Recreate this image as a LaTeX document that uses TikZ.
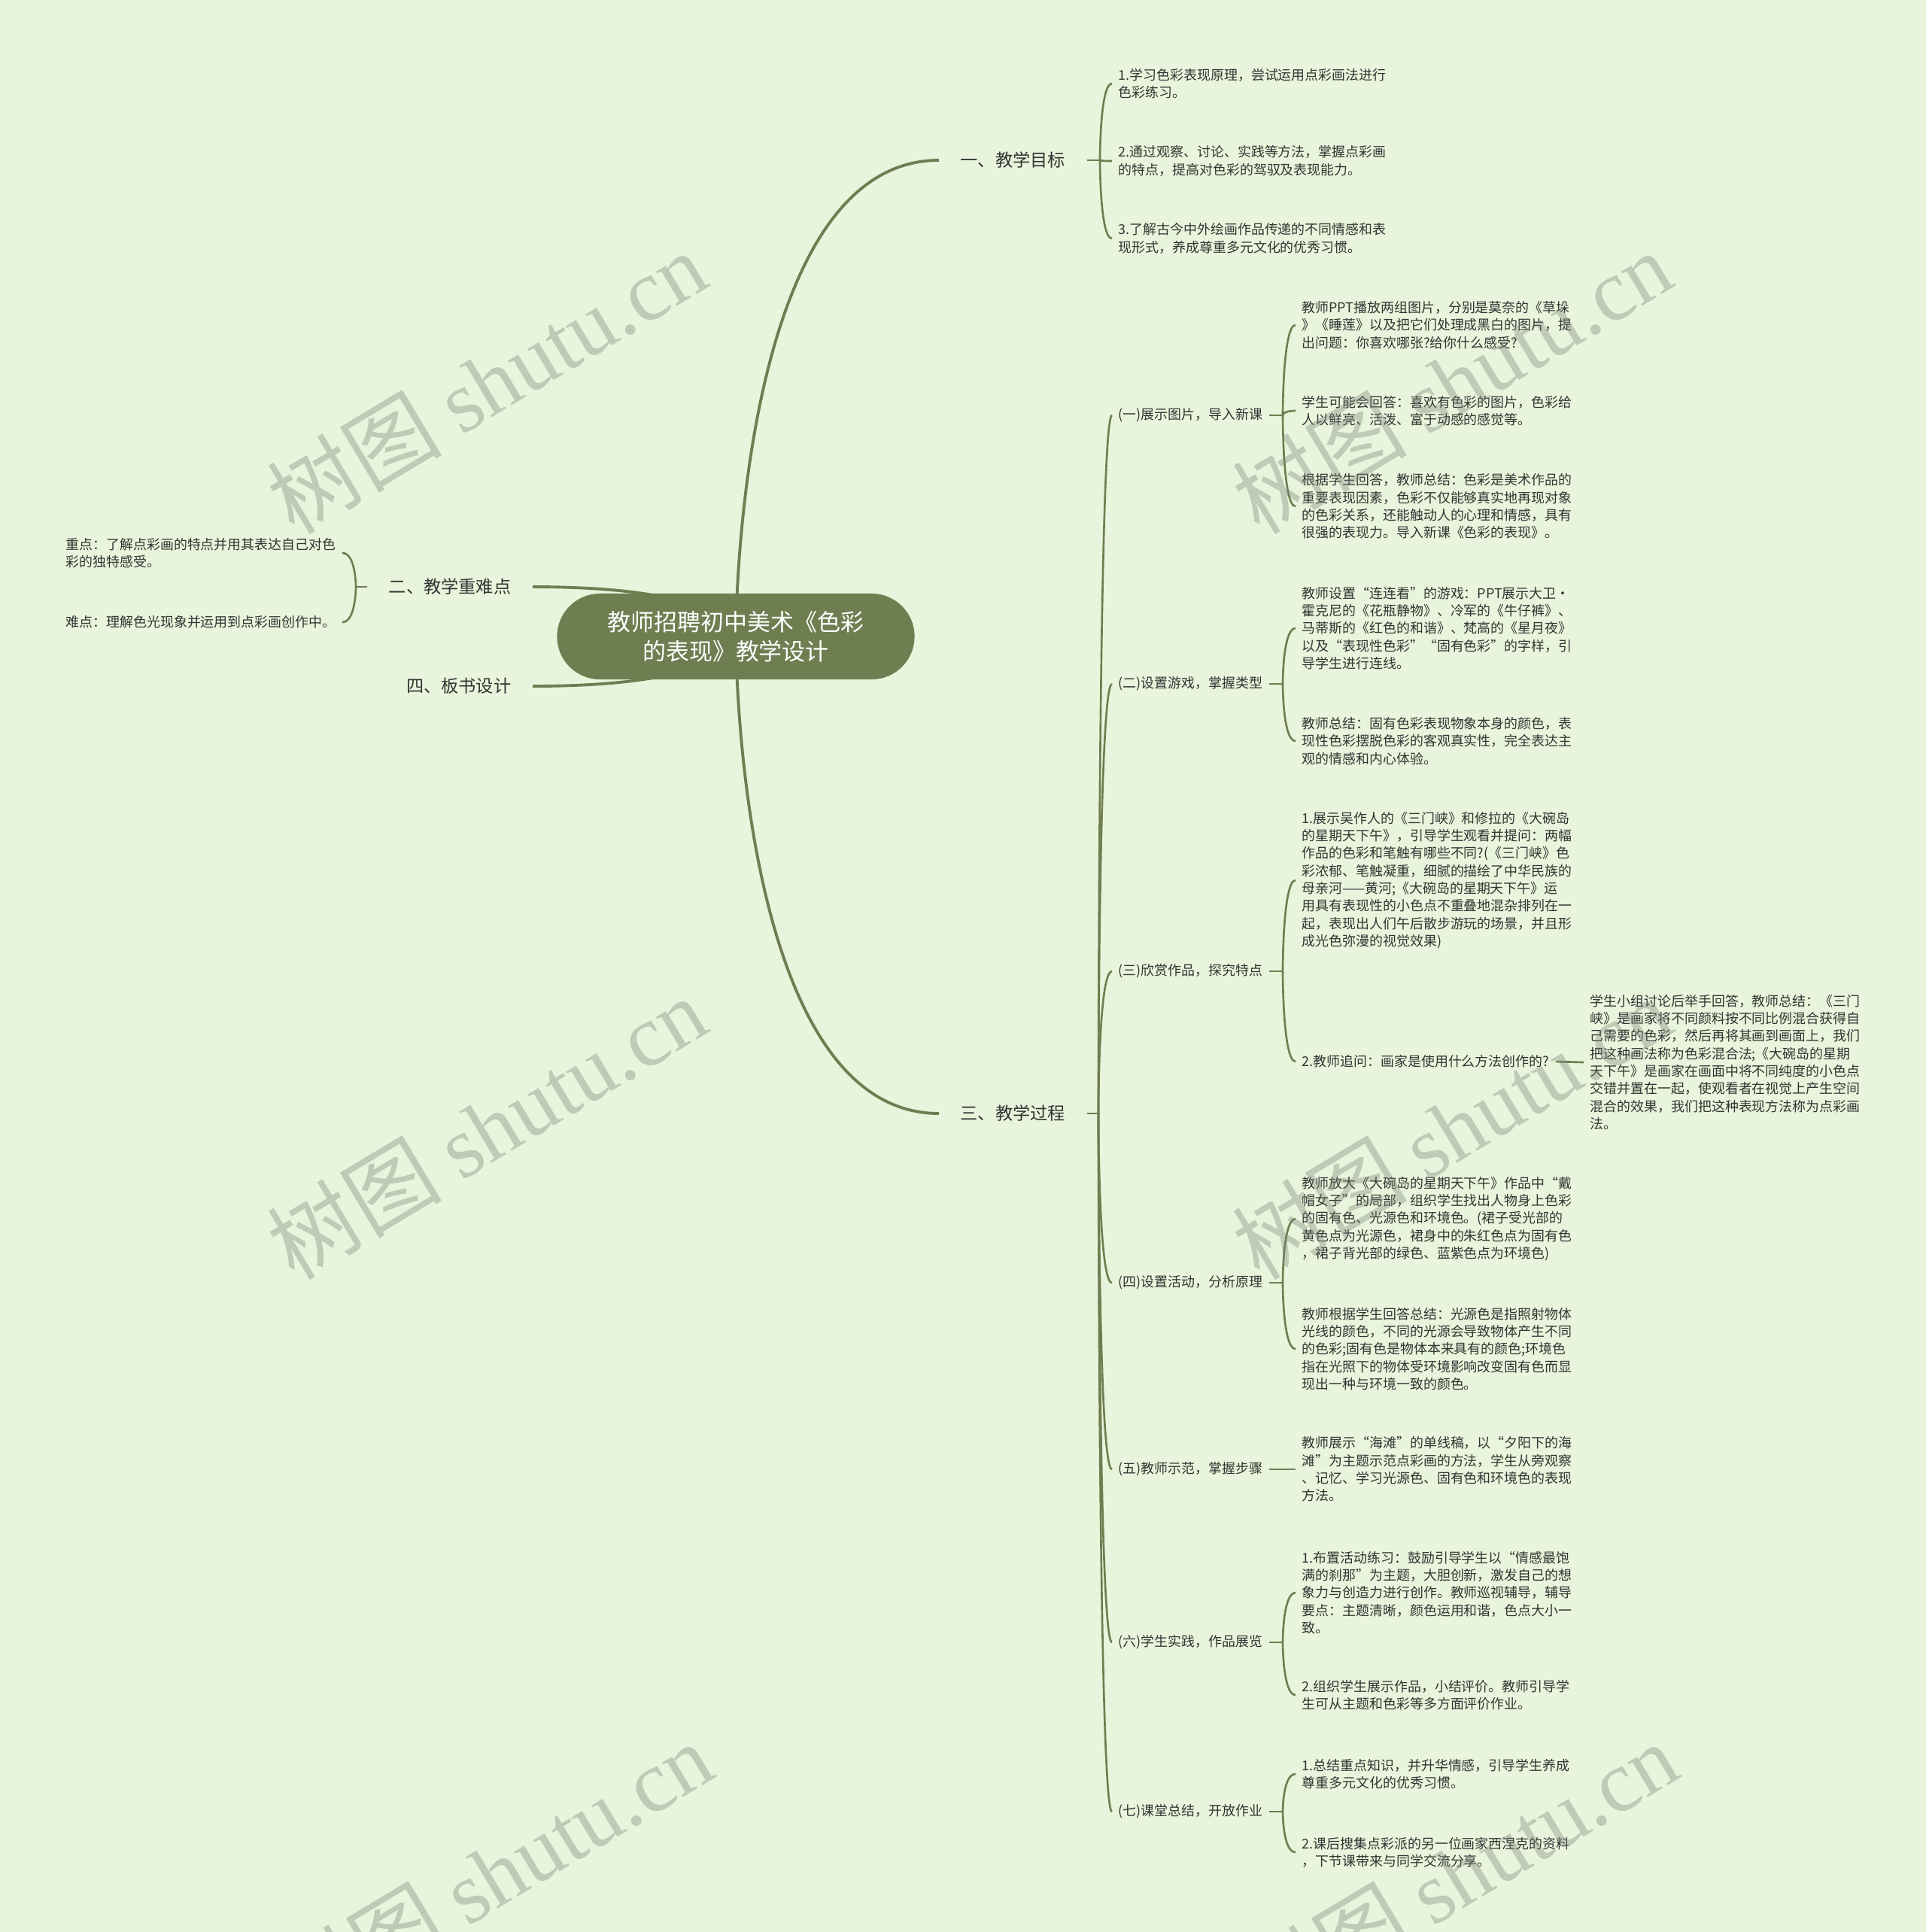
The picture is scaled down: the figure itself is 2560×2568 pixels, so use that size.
\documentclass[tikz,border=0pt]{standalone}
\usepackage{fontspec}
\setmainfont{Noto Sans CJK SC}
\newfontfamily\wmserif{Liberation Serif}
\usetikzlibrary{backgrounds}
\definecolor{bgc}{HTML}{E8F4DB}
\definecolor{linec}{HTML}{6F7E51}
\definecolor{rootc}{HTML}{6F7E51}
\definecolor{txtc}{HTML}{333333}
\definecolor{wmc}{RGB}{120,130,120}
\tikzset{
  root/.style={fill=rootc, text=white, rounded corners=0.57cm, minimum width=4.75cm, minimum height=1.14cm, align=center, font=\fontsize{8.8}{11}\selectfont, inner sep=0pt},
  mainb/.style={text=txtc, font=\fontsize{6.6}{8}\selectfont, inner xsep=0.28cm, inner ysep=0pt},
  subb/.style={text=txtc, font=\fontsize{5.1}{6.63}\selectfont, inner xsep=0.08cm, inner ysep=0pt, align=left},
  leaf/.style={text=txtc, font=\fontsize{5.1}{6.63}\selectfont, inner xsep=0.08cm, inner ysep=0pt, align=left},
  link/.style={draw=linec, line width=0.75pt},
  mainlink/.style={draw=linec, line width=1.1pt},
  wm/.style={text=wmc, text opacity=0.36, rotate=31, font=\fontsize{33}{38}\selectfont, inner sep=0pt}
}
\newcommand\mmcurve[3][link]{\draw[#1] (#2) .. controls (#2) and (#2 |- #3) .. (#3);}
\begin{document}
\begin{tikzpicture}[x=0.01cm,y=-0.01cm]
\useasboundingbox (0,0) rectangle (2560,2568);

% root
\node[root] (c) at (978,846) {教师招聘初中美术《色彩\\的表现》教学设计};

% level 1
\node[mainb, anchor=west] (l1a) at (1248,213) {一、教学目标};
\node[mainb, anchor=west] (l1c) at (1248,1480) {三、教学过程};
\node[mainb, anchor=east] (l1b) at (708,780) {二、教学重难点};
\node[mainb, anchor=east] (l1d) at (708,912) {四、板书设计};

% trunks
\coordinate (t1) at (1462,213);
\coordinate (t3) at (1460,1480);
\coordinate (t2) at (473,780);

% 一 leaves
\node[leaf, anchor=west] (a1) at (1478,111) {1.学习色彩表现原理，尝试运用点彩画法进行\\色彩练习。};
\node[leaf, anchor=west] (a2) at (1478,214) {2.通过观察、讨论、实践等方法，掌握点彩画\\的特点，提高对色彩的驾驭及表现能力。};
\node[leaf, anchor=west] (a3) at (1478,317) {3.了解古今中外绘画作品传递的不同情感和表\\现形式，养成尊重多元文化的优秀习惯。};

% 二 leaves
\node[leaf, anchor=east] (i1) at (455,735) {重点：了解点彩画的特点并用其表达自己对色\\彩的独特感受。};
\node[leaf, anchor=east] (i2) at (455,827) {难点：理解色光现象并运用到点彩画创作中。};

% 三 level 2
\node[subb, anchor=west] (p1) at (1478,552) {(一)展示图片，导入新课};
\node[subb, anchor=west] (p2) at (1478,909) {(二)设置游戏，掌握类型};
\node[subb, anchor=west] (p3) at (1478,1291) {(三)欣赏作品，探究特点};
\node[subb, anchor=west] (p4) at (1478,1705) {(四)设置活动，分析原理};
\node[subb, anchor=west] (p5) at (1478,1953) {(五)教师示范，掌握步骤};
\node[subb, anchor=west] (p6) at (1478,2183) {(六)学生实践，作品展览};
\node[subb, anchor=west] (p7) at (1478,2408) {(七)课堂总结，开放作业};

\coordinate (s1) at (1705,552);
\coordinate (s2) at (1705,909);
\coordinate (s3) at (1705,1291);
\coordinate (s4) at (1705,1705);
\coordinate (s5) at (1705,1953);
\coordinate (s6) at (1705,2183);
\coordinate (s7) at (1705,2408);

% (一)
\node[leaf, anchor=west] (b1) at (1722,432) {教师PPT播放两组图片，分别是莫奈的《草垛\\》《睡莲》以及把它们处理成黑白的图片，提\\出问题：你喜欢哪张?给你什么感受?};
\node[leaf, anchor=west] (b2) at (1722,546) {学生可能会回答：喜欢有色彩的图片，色彩给\\人以鲜亮、活泼、富于动感的感觉等。};
\node[leaf, anchor=west] (b3) at (1722,673) {根据学生回答，教师总结：色彩是美术作品的\\重要表现因素，色彩不仅能够真实地再现对象\\的色彩关系，还能触动人的心理和情感，具有\\很强的表现力。导入新课《色彩的表现》。};

% (二)
\node[leaf, anchor=west] (c1) at (1722,835) {教师设置“连连看”的游戏：PPT展示大卫·\\霍克尼的《花瓶静物》、冷军的《牛仔裤》、\\马蒂斯的《红色的和谐》、梵高的《星月夜》\\以及“表现性色彩”“固有色彩”的字样，引\\导学生进行连线。};
\node[leaf, anchor=west] (c2) at (1722,985) {教师总结：固有色彩表现物象本身的颜色，表\\现性色彩摆脱色彩的客观真实性，完全表达主\\观的情感和内心体验。};

% (三)
\node[leaf, anchor=west] (d1) at (1722,1170) {1.展示吴作人的《三门峡》和修拉的《大碗岛\\的星期天下午》，引导学生观看并提问：两幅\\作品的色彩和笔触有哪些不同?(《三门峡》色\\彩浓郁、笔触凝重，细腻的描绘了中华民族的\\母亲河——黄河;《大碗岛的星期天下午》运\\用具有表现性的小色点不重叠地混杂排列在一\\起，表现出人们午后散步游玩的场景，并且形\\成光色弥漫的视觉效果)};
\node[leaf, anchor=west] (d2) at (1722,1411) {2.教师追问：画家是使用什么方法创作的?};
\node[leaf, anchor=west] (d2a) at (2105,1412) {学生小组讨论后举手回答，教师总结：《三门\\峡》是画家将不同颜料按不同比例混合获得自\\己需要的色彩，然后再将其画到画面上，我们\\把这种画法称为色彩混合法;《大碗岛的星期\\天下午》是画家在画面中将不同纯度的小色点\\交错并置在一起，使观看者在视觉上产生空间\\混合的效果，我们把这种表现方法称为点彩画\\法。};

% (四)
\node[leaf, anchor=west] (e1) at (1722,1620) {教师放大《大碗岛的星期天下午》作品中“戴\\帽女子”的局部，组织学生找出人物身上色彩\\的固有色、光源色和环境色。(裙子受光部的\\黄色点为光源色，裙身中的朱红色点为固有色\\，裙子背光部的绿色、蓝紫色点为环境色)};
\node[leaf, anchor=west] (e2) at (1722,1793) {教师根据学生回答总结：光源色是指照射物体\\光线的颜色，不同的光源会导致物体产生不同\\的色彩;固有色是物体本来具有的颜色;环境色\\指在光照下的物体受环境影响改变固有色而显\\现出一种与环境一致的颜色。};

% (五)
\node[leaf, anchor=west] (f1) at (1722,1953) {教师展示“海滩”的单线稿，以“夕阳下的海\\滩”为主题示范点彩画的方法，学生从旁观察\\、记忆、学习光源色、固有色和环境色的表现\\方法。};

% (六)
\node[leaf, anchor=west] (g1) at (1722,2117) {1.布置活动练习：鼓励引导学生以“情感最饱\\满的刹那”为主题，大胆创新，激发自己的想\\象力与创造力进行创作。教师巡视辅导，辅导\\要点：主题清晰，颜色运用和谐，色点大小一\\致。};
\node[leaf, anchor=west] (g2) at (1722,2253) {2.组织学生展示作品，小结评价。教师引导学\\生可从主题和色彩等多方面评价作业。};

% (七)
\node[leaf, anchor=west] (h1) at (1722,2358) {1.总结重点知识，并升华情感，引导学生养成\\尊重多元文化的优秀习惯。};
\node[leaf, anchor=west] (h2) at (1722,2462) {2.课后搜集点彩派的另一位画家西涅克的资料\\，下节课带来与同学交流分享。};

% watermarks
\node[wm] (w1) at (647,508) {树图 {\wmserif shutu.cn}};
\node[wm] (w2) at (647,1499) {树图 {\wmserif shutu.cn}};
\node[wm] (w3) at (655,2490) {树图 {\wmserif shutu.cn}};
\node[wm] (w4) at (1930,508) {树图 {\wmserif shutu.cn}};
\node[wm] (w5) at (1930,1499) {树图 {\wmserif shutu.cn}};
\node[wm] (w6) at (1938,2490) {树图 {\wmserif shutu.cn}};

\begin{pgfonlayer}{background}
\fill[bgc] (0,0) rectangle (2560,2568);
% root to level 1
\mmcurve[mainlink]{c.center}{l1a.west}
\mmcurve[mainlink]{c.center}{l1c.west}
\mmcurve[mainlink]{c.center}{l1b.east}
\mmcurve[mainlink]{c.center}{l1d.east}
% 一
\draw[link] (l1a.east) -- (t1);
\mmcurve{t1}{a1.west}
\mmcurve{t1}{a2.west}
\mmcurve{t1}{a3.west}
% 二
\draw[link] (l1b.west) -- (t2);
\mmcurve{t2}{i1.east}
\mmcurve{t2}{i2.east}
% 三
\draw[link] (l1c.east) -- (t3);
\mmcurve{t3}{p1.west}
\mmcurve{t3}{p2.west}
\mmcurve{t3}{p3.west}
\mmcurve{t3}{p4.west}
\mmcurve{t3}{p5.west}
\mmcurve{t3}{p6.west}
\mmcurve{t3}{p7.west}
% level 2 ticks
\draw[link] (p1.east) -- (s1);
\draw[link] (p2.east) -- (s2);
\draw[link] (p3.east) -- (s3);
\draw[link] (p4.east) -- (s4);
\draw[link] (p5.east) -- (s5);
\draw[link] (p6.east) -- (s6);
\draw[link] (p7.east) -- (s7);
\mmcurve{s1}{b1.west}
\mmcurve{s1}{b2.west}
\mmcurve{s1}{b3.west}
\mmcurve{s2}{c1.west}
\mmcurve{s2}{c2.west}
\mmcurve{s3}{d1.west}
\mmcurve{s3}{d2.west}
\draw[link] (d2.east) -- (d2a.west);
\mmcurve{s4}{e1.west}
\mmcurve{s4}{e2.west}
\mmcurve{s5}{f1.west}
\mmcurve{s6}{g1.west}
\mmcurve{s6}{g2.west}
\mmcurve{s7}{h1.west}
\mmcurve{s7}{h2.west}
\end{pgfonlayer}
\end{tikzpicture}
\end{document}
